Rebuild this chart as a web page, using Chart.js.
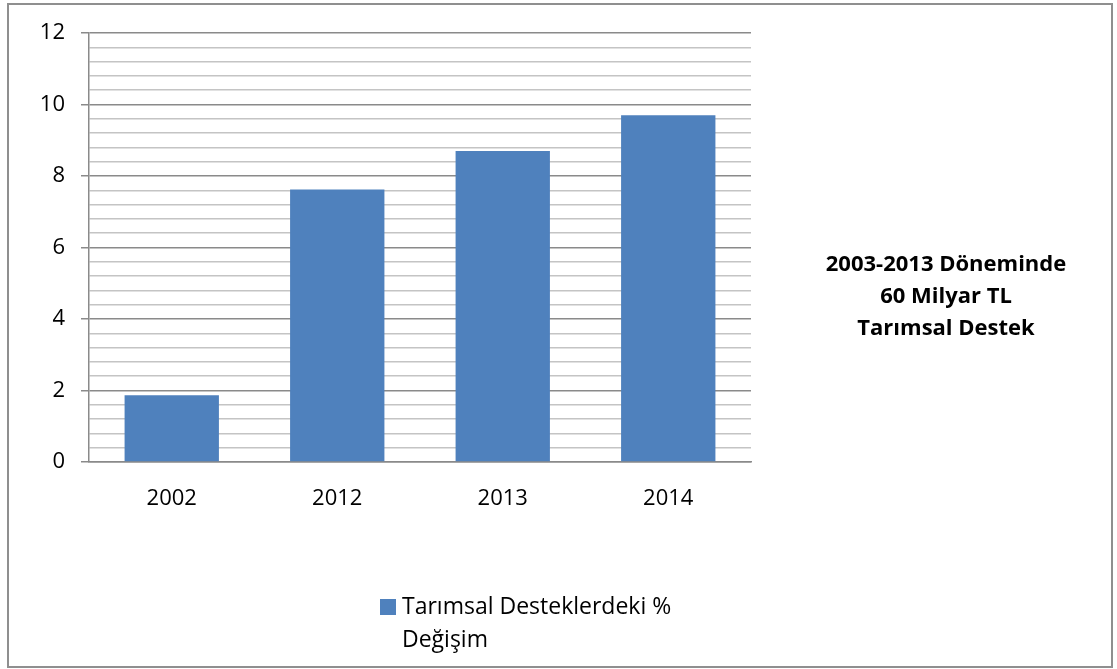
<!DOCTYPE html>
<html>
<head>
<meta charset="utf-8">
<script src="https://cdn.jsdelivr.net/npm/chart.js@4"></script>
<style>
  html, body { margin: 0; padding: 0; background: #fff; }
  #wrap { position: relative; width: 1117px; height: 669px; }
</style>
</head>
<body>
<div id="wrap"><canvas id="chart"></canvas></div>
<script>
const years = ['2002', '2012', '2013', '2014'];
const changeValues = [1.87, 7.62, 8.7, 9.7];
const seriesName = 'Tarımsal Desteklerdeki % Değişim';
const legendLines = ['Tarımsal Desteklerdeki %', 'Değişim'];
const noteLines = ['2003-2013 Döneminde', '60 Milyar TL', 'Tarımsal Destek'];

const barColor = '#4f81bd';
const fontName = '"Open Sans", "Noto Sans", sans-serif';

function isMajor(v) {
  return Math.abs(v / 2 - Math.round(v / 2)) < 1e-6;
}

// frame, side note and legend drawn on top
const extras = {
  id: 'extras',
  afterDraw(chart) {
    const ctx = chart.ctx;
    ctx.save();
    ctx.strokeStyle = '#8f8f8f';
    ctx.lineWidth = 2;
    ctx.strokeRect(8, 4, 1104, 663);

    ctx.fillStyle = '#000';
    ctx.font = 'bold 22px ' + fontName;
    ctx.textAlign = 'center';
    ctx.textBaseline = 'middle';
    noteLines.forEach((t, i) => ctx.fillText(t, 946, 265 + i * 32));

    ctx.fillStyle = barColor;
    ctx.fillRect(380, 599, 16, 16);
    ctx.fillStyle = '#000';
    ctx.font = '23px ' + fontName;
    ctx.textAlign = 'left';
    legendLines.forEach((t, i) => ctx.fillText(t, 402, 607 + i * 33));
    ctx.restore();
  }
};

new Chart(document.getElementById('chart'), {
  type: 'bar',
  data: {
    labels: years,
    datasets: [{
      label: seriesName,
      data: changeValues,
      backgroundColor: barColor,
      borderWidth: 0,
      barPercentage: 0.57,
      categoryPercentage: 1
    }]
  },
  options: {
    responsive: true,
    maintainAspectRatio: false,
    animation: false,
    layout: { padding: { left: 0, top: 33, right: 366, bottom: 0 } },
    plugins: {
      legend: { display: false },
      tooltip: { enabled: false }
    },
    scales: {
      x: {
        grid: { display: false, drawTicks: false },
        border: { display: true, color: '#8a8a8a', width: 1.5 },
        ticks: { color: '#000', padding: 24, font: { family: fontName, size: 22 } },
        afterFit(scale) { scale.height = 669 - 462; }
      },
      y: {
        min: 0,
        max: 12,
        ticks: {
          stepSize: 0.4,
          autoSkip: false,
          padding: 16,
          color: '#000',
          font: { family: fontName, size: 22 },
          callback: v => isMajor(v) ? String(Math.round(v)) : ''
        },
        grid: {
          lineWidth: 1.5,
          tickLength: 8,
          color: c => isMajor(c.tick.value) ? '#8a8a8a' : '#c4c4c4',
          tickColor: c => isMajor(c.tick.value) ? '#8a8a8a' : 'rgba(0,0,0,0)'
        },
        border: { display: true, color: '#8a8a8a', width: 1.5 },
        afterFit(scale) { scale.width = 89; }
      }
    }
  },
  plugins: [extras]
});
</script>
</body>
</html>
